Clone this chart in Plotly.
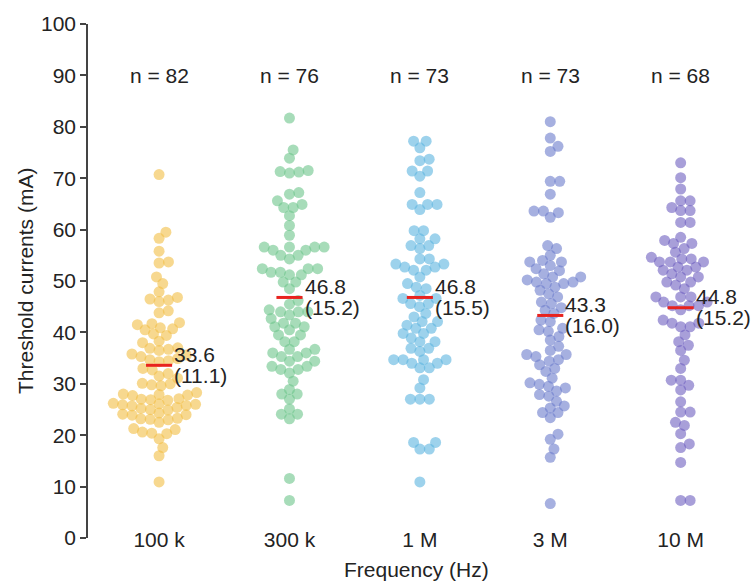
import numpy as np
import plotly.graph_objects as go

categories = ["100 k", "300 k", "1 M", "3 M", "10 M"]
n_labels = ["n = 82", "n = 76", "n = 73", "n = 73", "n = 68"]
means = [33.6, 46.8, 46.8, 43.3, 44.8]
sds = [11.1, 15.2, 15.5, 16.0, 15.2]
colors = ["#F2BE45", "#6CC58A", "#5BB4E0", "#6A7CCB", "#6E5FBF"]

vals_100k = [70.7, 59.5, 58.3, 55.8, 53.7, 53.5, 50.8, 49.5, 47.9, 46.8, 46.5, 46.3, 46.0,
             44.2, 43.8, 41.9, 41.7, 41.5, 40.9, 40.7, 40.5, 39.7, 39.4, 38.3, 38.0, 37.0,
             36.9, 36.7, 36.5, 35.8, 35.6, 35.3, 34.9, 34.7, 34.5, 34.3, 33.0, 32.7, 32.0,
             31.5, 31.1, 30.1, 30.0, 29.8, 29.6, 28.3, 28.0, 27.9, 27.8, 27.7, 27.1, 27.0,
             26.9, 26.8, 26.2, 26.1, 26.0, 25.9, 25.8, 25.7, 25.4, 25.2, 25.0, 24.9, 24.3,
             24.1, 24.0, 23.9, 23.3, 23.2, 23.1, 23.0, 22.5, 21.3, 21.1, 20.6, 20.4, 20.3,
             19.3, 17.6, 16.0, 10.9]
vals_300k = [81.7, 75.5, 73.9, 71.5, 71.2, 71.0, 71.3, 67.2, 66.9, 65.6, 64.9, 64.3, 64.3,
             62.7, 60.8, 58.9, 56.6, 56.6, 56.6, 56.6, 56.0, 56.0, 55.0, 55.0, 54.3, 52.4,
             52.4, 52.4, 51.7, 51.7, 51.2, 51.2, 49.8, 49.8, 48.5, 46.2, 45.5, 44.4, 44.0,
             44.0, 44.0, 43.4, 42.7, 41.8, 41.8, 41.1, 41.1, 40.5, 39.5, 39.5, 38.2, 38.2,
             36.7, 36.7, 36.0, 36.0, 35.3, 35.3, 34.4, 34.4, 33.4, 33.4, 32.8, 32.8, 32.1,
             30.5, 28.9, 28.0, 28.0, 27.0, 25.1, 24.1, 24.1, 23.2, 11.6, 7.3]
vals_1M = [77.2, 77.2, 75.9, 73.4, 73.7, 71.4, 71.4, 70.4, 67.2, 64.9, 64.9, 64.9, 63.9,
           59.8, 59.8, 58.2, 58.2, 56.9, 56.9, 56.3, 54.3, 54.3, 53.3, 53.3, 52.7, 52.7,
           52.1, 52.1, 50.8, 49.5, 48.8, 48.5, 47.2, 46.6, 46.6, 45.6, 45.6, 45.0, 43.7,
           43.0, 42.1, 42.1, 41.4, 40.8, 40.8, 39.8, 39.8, 38.9, 38.2, 38.2, 36.9, 36.9,
           36.3, 34.7, 34.7, 34.7, 34.7, 34.0, 34.0, 33.1, 33.1, 30.8, 29.2, 27.0, 27.0,
           27.0, 18.6, 18.6, 17.3, 17.3, 10.9]
vals_3M = [81.0, 77.8, 76.2, 75.2, 69.4, 69.4, 66.9, 63.6, 63.6, 63.3, 62.4, 56.9, 56.3,
           55.0, 54.0, 53.7, 53.7, 53.0, 52.4, 52.0, 51.4, 50.8, 50.8, 50.2, 49.8, 49.8,
           49.5, 49.5, 48.8, 48.2, 47.5, 46.9, 45.9, 45.6, 44.8, 44.3, 43.7, 42.4, 42.1,
           40.8, 40.5, 40.2, 39.2, 38.5, 37.3, 36.5, 35.7, 35.7, 35.3, 34.7, 34.4, 33.7,
           33.0, 32.4, 31.1, 30.2, 29.9, 29.5, 29.2, 28.6, 27.9, 27.6, 26.6, 25.7, 25.3,
           24.4, 24.4, 23.4, 20.2, 19.2, 17.3, 15.7, 6.7]
vals_10M = [73.0, 70.1, 67.9, 65.6, 65.6, 64.3, 63.7, 63.7, 61.4, 61.4, 58.5, 57.9, 57.3,
            57.3, 56.3, 55.6, 54.6, 54.3, 54.3, 53.7, 53.7, 53.7, 52.7, 52.7, 52.1, 52.1,
            51.4, 50.8, 50.8, 49.8, 49.8, 49.2, 48.5, 46.9, 46.9, 46.9, 45.9, 45.9, 45.2,
            45.2, 45.2, 44.4, 42.4, 41.8, 41.8, 41.1, 41.1, 39.5, 38.2, 37.5, 36.5, 34.6,
            33.0, 30.7, 30.7, 29.7, 28.8, 26.5, 24.5, 24.5, 22.5, 21.9, 20.3, 18.3, 17.6,
            14.7, 7.3, 7.3]

groups = [vals_100k, vals_300k, vals_1M, vals_3M, vals_10M]

# layout geometry (pixels)
W, H = 752, 585
ML, MR, MT, MB = 88, 12, 20, 47
plot_w = W - ML - MR
plot_h = H - MT - MB
x_lo, x_hi = -0.545, 4.455
px_per_x = plot_w / (x_hi - x_lo)
px_per_y = plot_h / 100.0


def beeswarm(values, d):
    """Seaborn-like swarm: returns horizontal offsets in pixels."""
    ys = np.asarray(values, dtype=float) * px_per_y
    order = np.argsort(ys, kind="stable")
    placed = []
    xs = np.zeros(len(ys))
    for idx in order:
        y = ys[idx]
        nb = [(px, py) for px, py in placed if abs(py - y) < d]
        cands = [0.0]
        for px, py in nb:
            dx = np.sqrt(max(d * d - (y - py) ** 2, 0.0)) * 1.05
            cands += [px + dx, px - dx]
        cands.sort(key=abs)
        chosen = cands[-1]
        for c in cands:
            if all((c - px) ** 2 + (y - py) ** 2 >= d * d * 0.999 for px, py in nb):
                chosen = c
                break
        xs[idx] = chosen
        placed.append((chosen, y))
    return xs


fig = go.Figure()
FONT = "Liberation Sans, Arial, sans-serif"
TXT = "#232323"

for i, vals in enumerate(groups):
    off = beeswarm(vals, 9.0) / px_per_x
    fig.add_trace(go.Scatter(
        x=i + off, y=vals, mode="markers",
        marker=dict(size=11, color=colors[i], opacity=0.6, line=dict(width=0)),
        showlegend=False, hoverinfo="y"))
    fig.add_shape(type="line", xref="x", yref="y",
                  x0=i - 0.1, x1=i + 0.1, y0=means[i], y1=means[i],
                  line=dict(color="#E8231F", width=3))
    fig.add_annotation(x=i + 0.1, y=means[i], xref="x", yref="y",
                       text=f"{means[i]:.1f}", showarrow=False, xanchor="left",
                       yanchor="middle", yshift=11, font=dict(size=21, color=TXT, family=FONT))
    fig.add_annotation(x=i + 0.1, y=means[i], xref="x", yref="y",
                       text=f"({sds[i]:.1f})", showarrow=False, xanchor="left",
                       yanchor="middle", yshift=-10, font=dict(size=21, color=TXT, family=FONT))
    fig.add_annotation(x=i, y=90, xref="x", yref="y", text=n_labels[i],
                       showarrow=False, xanchor="center", yanchor="middle",
                       font=dict(size=21, color=TXT, family=FONT))

fig.add_annotation(x=(416 - ML) / plot_w, y=-(570 - (H - MB)) / plot_h, xref="paper", yref="paper",
                   text="Frequency (Hz)", showarrow=False, xanchor="center", yanchor="middle",
                   font=dict(size=21, color=TXT, family=FONT))
fig.add_annotation(x=(25 - ML) / plot_w, y=0.5, xref="paper", yref="paper",
                   text="Threshold currents (mA)", showarrow=False, textangle=-90,
                   xanchor="center", yanchor="middle",
                   font=dict(size=21, color=TXT, family=FONT))

fig.update_layout(
    width=W, height=H,
    margin=dict(l=ML, r=MR, t=MT, b=MB, pad=0),
    plot_bgcolor="white", paper_bgcolor="white",
    font=dict(family=FONT, size=21, color=TXT),
    xaxis=dict(range=[x_lo, x_hi], tickmode="array", tickvals=list(range(5)),
               ticktext=categories, showgrid=False, zeroline=False, showline=False,
               ticks="", ticklabelstandoff=-13, tickfont=dict(size=21, color=TXT),
               fixedrange=True),
    yaxis=dict(range=[0, 100], tickmode="array", tickvals=list(range(0, 101, 10)),
               showgrid=False, zeroline=False, showline=True, linecolor="#444",
               linewidth=1.5, ticks="outside", ticklen=6, tickwidth=1.5, tickcolor="#444",
               tickfont=dict(size=21, color=TXT), fixedrange=True),
)

fig.write_html("out.html", config={"displayModeBar": False},
               post_script="document.body.style.margin='0';")
